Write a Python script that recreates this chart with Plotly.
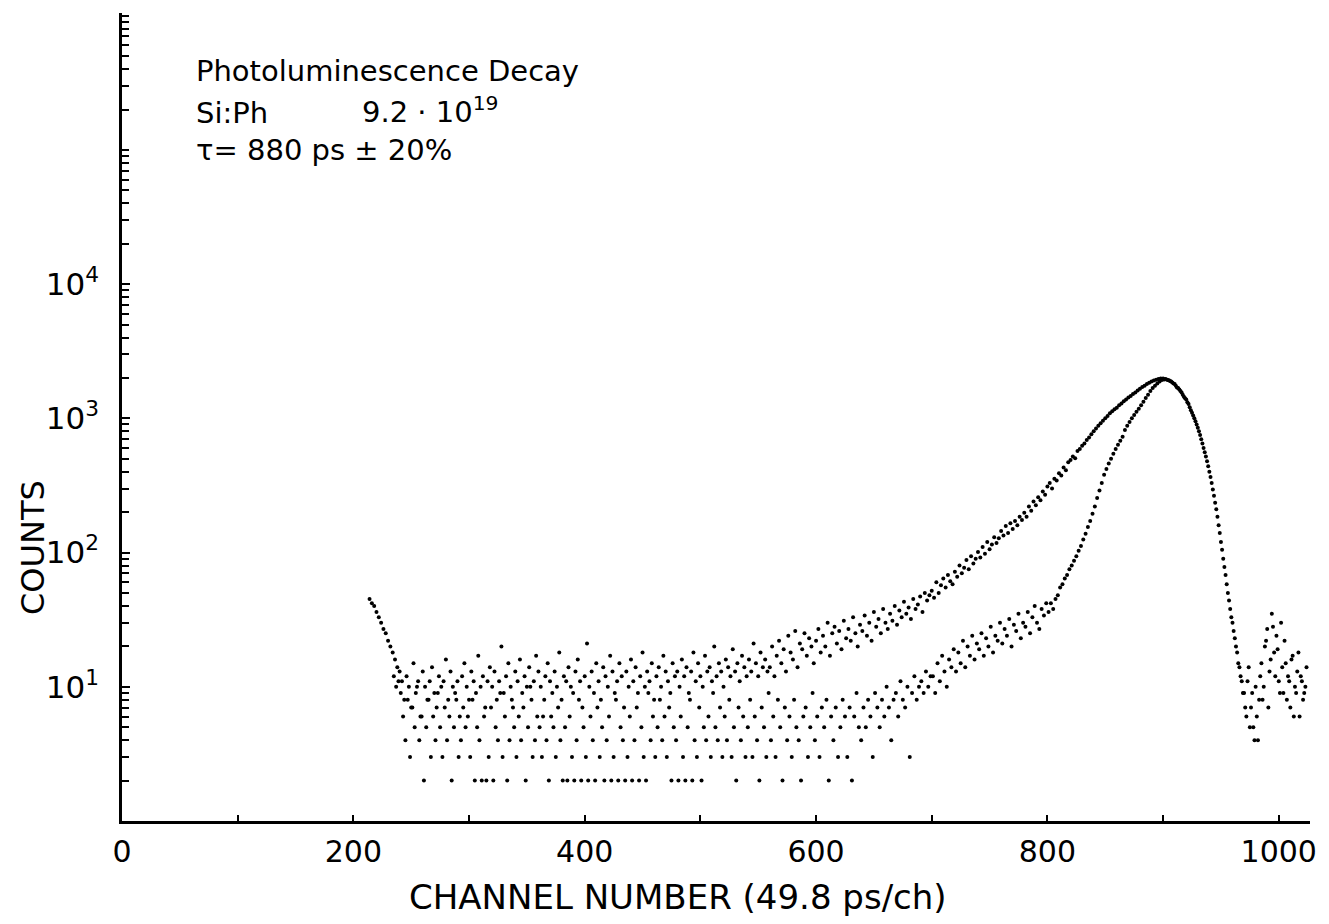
import plotly.graph_objects as go

# ---------------- data ----------------
# Series A: photoluminescence decay, channels 214..1024 every 2 channels
A_start = 214
A_counts = [
    # 214-238 left edge
    45, 42, 40, 36, 33, 30, 27, 25, 22, 20, 18, 16, 14,
    # 240-318
    13, 11, 8, 12, 10, 7, 15, 9, 11, 6, 13, 10, 8, 11, 14, 9, 7, 12, 10, 11,
    16, 8, 13, 10, 9, 11, 6, 12, 15, 10, 8, 13, 11, 9, 17, 10, 12, 7, 11, 14,
    # 320-398
    10, 13, 8, 11, 20, 9, 12, 15, 10, 7, 13, 11, 16, 9, 12, 10, 14, 8, 11, 17,
    13, 10, 6, 12, 15, 11, 9, 13, 10, 18, 8, 12, 11, 14, 10, 9, 13, 16, 11, 7,
    # 400-478
    12, 21, 10, 13, 9, 15, 11, 8, 14, 12, 10, 17, 13, 9, 11, 15, 12, 7, 13, 10,
    16, 11, 14, 9, 12, 18, 10, 13, 11, 15, 8, 12, 14, 10, 17, 13, 11, 9, 15, 12,
    # 480-558
    13, 10, 16, 12, 14, 9, 13, 18, 11, 15, 12, 10, 17, 13, 14, 11, 20, 12, 15, 13,
    10, 16, 14, 12, 19, 13, 15, 11, 17, 14, 12, 16, 13, 21, 15, 12, 18, 14, 16, 13,
    # 560-598
    14, 20, 12, 17, 22, 15, 19, 13, 24, 18, 16, 26, 14, 21, 19, 25, 17, 23, 20, 15,
    # 600-638
    22, 27, 18, 24, 20, 30, 17, 25, 28, 21, 26, 19, 31, 23, 27, 22, 33, 25, 20, 29,
    # 640-698
    26, 34, 24, 30, 22, 36, 28, 32, 25, 38, 30, 27, 35, 31, 40, 29, 37, 33, 43, 35,
    39, 32, 45, 38, 41, 47, 36, 50, 44, 48,
    # 700-798
    52, 46, 60, 50, 57, 64, 55, 68, 61, 58,
    72, 66, 80, 70, 77, 88, 75, 94, 83, 90,
    101, 92, 110, 98, 120, 106, 115, 130, 118, 128,
    145, 134, 158, 140, 165, 150, 172, 160, 185, 175,
    198, 185, 220, 205, 240, 225, 258, 245, 285, 270,
    # 800-898
    310, 330, 300, 355, 345, 390, 375, 430, 410, 470,
    490, 520, 505, 570, 590, 625, 650, 690, 720, 760,
    800, 840, 880, 920, 960, 1000, 1040, 1090, 1130, 1170,
    1200, 1250, 1290, 1340, 1380, 1430, 1470, 1520, 1560, 1610,
    1660, 1710, 1750, 1800, 1840, 1880, 1910, 1940, 1960, 1980,
    # 900-968
    1980, 1960, 1930, 1900, 1850, 1800, 1700, 1640, 1560, 1450,
    1380, 1280, 1150, 1050, 950, 850, 750, 650, 560, 480,
    400, 330, 265, 210, 160, 120, 90, 68, 50, 38,
    30, 23, 18, 14, 11,
    # 970-1024 tail
    9, 6, 14, 7, 5, 10, 4, 12, 8, 20, 27, 13, 35, 18, 24, 11, 30, 9, 15, 12,
    7, 17, 10, 13, 6, 11, 9, 14,
]

# Series B: instrument response, channels 235..1023 every 2 channels
B_start = 235
B_counts = [
    # 235-239
    12, 10, 11,
    # 241-639 baseline
    9, 6, 4, 8, 3, 7, 5, 10, 4, 6,
    2, 5, 8, 3, 6, 4, 9, 5, 3, 7,
    4, 6, 2, 5, 8, 3, 4, 7, 5, 6,
    3, 8, 2, 5, 4, 2, 6, 2, 3, 7,
    2, 5, 4, 9, 3, 6, 2, 4, 8, 5,
    3, 6, 4, 7, 2, 5, 10, 3, 4, 6,
    5, 3, 8, 4, 2, 6, 5, 3, 7, 4,
    2, 5, 2, 6, 3, 2, 4, 8, 2, 5,
    3, 2, 6, 4, 2, 7, 3, 5, 2, 4,
    6, 2, 3, 8, 2, 5, 4, 2, 3, 6,
    2, 4, 7, 2, 5, 3, 2, 9, 4, 6,
    3, 5, 8, 4, 6, 3, 7, 2, 5, 4,
    2, 6, 3, 2, 5, 8, 2, 4, 3, 7,
    2, 5, 4, 6, 3, 9, 5, 4, 7, 3,
    6, 4, 8, 3, 5, 2, 7, 4, 6, 3,
    5, 8, 3, 6, 4, 2, 7, 5, 3, 9,
    4, 6, 3, 8, 5, 2, 7, 4, 6, 3,
    8, 5, 4, 2, 6, 7, 3, 5, 9, 4,
    6, 3, 7, 5, 8, 2, 6, 4, 7, 3,
    5, 8, 6, 3, 7, 2, 6, 9, 5, 4,
    # 641-699
    7, 5, 8, 6, 3, 9, 7, 5, 8, 6, 10, 7, 4, 8, 9, 6, 11, 8, 7, 10,
    3, 9, 12, 8, 10, 11, 9, 13, 10, 12,
    # 701-799
    12, 9, 15, 11, 17, 13, 10, 16, 14, 19,
    13, 18, 15, 22, 14, 20, 17, 24, 16, 21,
    19, 25, 17, 23, 20, 28, 18, 24, 22, 30,
    21, 27, 24, 32, 20, 29, 26, 35, 23, 30,
    28, 36, 25, 33, 40, 30, 27, 38, 34, 42,
    # 801-899
    36, 42, 38, 45, 48, 55, 58, 64, 68, 75,
    80, 87, 94, 103, 112, 125, 138, 155, 172, 195,
    220, 255, 290, 330, 380, 420, 460, 500, 545, 590,
    635, 680, 730, 820, 880, 940, 1000, 1060, 1120, 1180,
    1250, 1330, 1420, 1500, 1600, 1680, 1750, 1820, 1880, 1930,
    # 901-969
    1950, 1950, 1920, 1880, 1820, 1750, 1680, 1600, 1500, 1410,
    1320, 1210, 1100, 1000, 900, 800, 700, 600, 520, 440,
    365, 295, 235, 185, 140, 105, 78, 58, 44, 33,
    26, 20, 15, 12, 9,
    # 971-1023 tail
    7, 11, 5, 9, 4, 6, 8, 15, 10, 22, 7, 16, 28, 12, 19, 9, 14, 22, 8, 11,
    16, 6, 9, 18, 12, 8, 10,
]

A_channels = list(range(A_start, A_start + 2 * len(A_counts), 2))
B_channels = list(range(B_start, B_start + 2 * len(B_counts), 2))

x_tick_vals = [0, 200, 400, 600, 800, 1000]
x_tick_text = ["0", "200", "400", "600", "800", "1000"]
x_minor_vals = [100, 300, 500, 700, 900]
y_tick_vals = [10, 100, 1000, 10000]
y_tick_text = ["10<sup>1</sup>", "10<sup>2</sup>", "10<sup>3</sup>", "10<sup>4</sup>"]
y_minor_vals = [1, 100000, 1000000] + [m * 10 ** k for k in range(6) for m in range(2, 10)]

FONT = "DejaVu Sans"

fig = go.Figure()
fig.add_trace(go.Scatter(x=A_channels, y=A_counts, mode="markers", name="decay",
                         marker=dict(color="black", size=4, symbol="circle")))
fig.add_trace(go.Scatter(x=B_channels, y=B_counts, mode="markers", name="response",
                         marker=dict(color="black", size=4, symbol="circle")))

fig.update_layout(
    width=1329, height=924,
    margin=dict(l=122, r=19, t=13, b=103),
    paper_bgcolor="white", plot_bgcolor="white",
    showlegend=False,
    font=dict(family=FONT, color="black", size=30),
)
fig.update_xaxes(
    range=[0, 1027], showline=True, linecolor="black", linewidth=2.5,
    showgrid=False, zeroline=False,
    tickmode="array", tickvals=x_tick_vals, ticktext=x_tick_text,
    ticks="inside", ticklen=6, tickwidth=2, tickcolor="black",
    ticklabelstandoff=2,
    tickfont=dict(family=FONT, size=30, color="black"),
    minor=dict(tickmode="array", tickvals=x_minor_vals, ticks="inside",
               ticklen=6, tickwidth=2, tickcolor="black", showgrid=False),
)
fig.update_yaxes(
    type="log", range=[0, 6.02], showline=True, linecolor="black", linewidth=2.5,
    showgrid=False, zeroline=False,
    tickmode="array", tickvals=y_tick_vals, ticktext=y_tick_text,
    ticks="inside", ticklen=8, tickwidth=2, tickcolor="black",
    ticklabelstandoff=14,
    tickfont=dict(family=FONT, size=31, color="black"),
    minor=dict(tickmode="array", tickvals=y_minor_vals, ticks="inside",
               ticklen=7, tickwidth=1.5, tickcolor="black", showgrid=False),
)

def px_x(px):
    return (px - 122) / 1188.0

def px_y(py):
    return (821 - py) / 808.0

ann_font = dict(family=FONT, size=29, color="black")
annotations = [
    dict(text="Photoluminescence Decay", x=px_x(194), y=px_y(71), xanchor="left", yanchor="middle"),
    dict(text="Si:Ph", x=px_x(194), y=px_y(113), xanchor="left", yanchor="middle"),
    dict(text="9.2 · 10<sup>19</sup>", x=px_x(360), y=px_y(110), xanchor="left", yanchor="middle"),
    dict(text="τ= 880 ps ± 20%", x=px_x(194), y=px_y(150), xanchor="left", yanchor="middle"),
    dict(text="CHANNEL NUMBER (49.8 ps/ch)", x=px_x(678), y=px_y(897), xanchor="center", yanchor="middle",
         font=dict(family=FONT, size=34, color="black")),
    dict(text="COUNTS", x=px_x(33), y=px_y(548), xanchor="center", yanchor="middle", textangle=-90,
         font=dict(family=FONT, size=32, color="black")),
]
for a in annotations:
    a.setdefault("font", ann_font)
    a.update(xref="paper", yref="paper", showarrow=False)
fig.update_layout(annotations=annotations)

fig.write_html("out.html")
